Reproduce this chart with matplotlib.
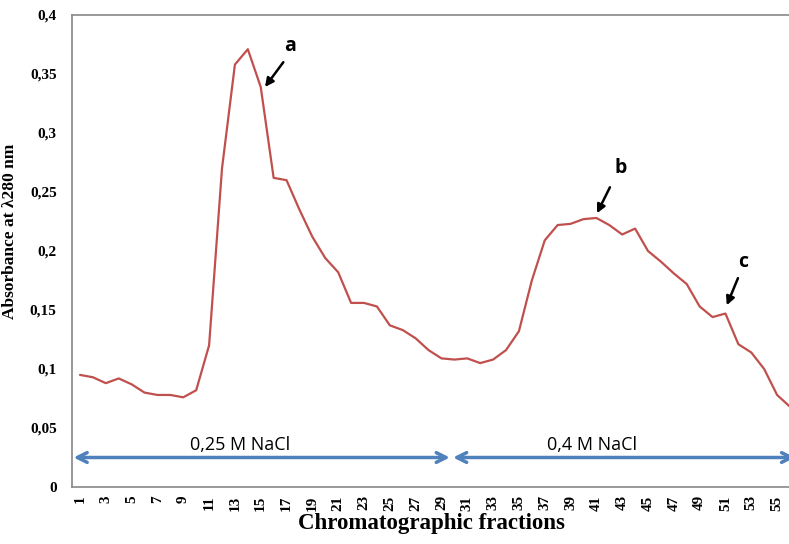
import matplotlib.pyplot as plt

# Data
fractions = list(range(1, 57))
absorbance = [
    0.095, 0.093, 0.088, 0.092, 0.087, 0.080, 0.078, 0.078, 0.076, 0.082,
    0.120, 0.270, 0.358, 0.371, 0.339, 0.262, 0.260, 0.235, 0.212, 0.194,
    0.182, 0.156, 0.156, 0.153, 0.137, 0.133, 0.126, 0.116, 0.109, 0.108,
    0.109, 0.105, 0.108, 0.116, 0.132, 0.175, 0.209, 0.222, 0.223, 0.227,
    0.228, 0.222, 0.214, 0.219, 0.200, 0.191, 0.181, 0.172, 0.153, 0.144,
    0.147, 0.121, 0.114, 0.100, 0.078, 0.068,
]
tick_labels = [str(n) for n in fractions[::2]]

fig = plt.figure(figsize=(7.89, 5.44), dpi=100)
ax = fig.add_axes([72 / 789, 57 / 544, 718 / 789, 472 / 544])

ax.plot(fractions, absorbance, color="#C0504D", linewidth=1.6,
        solid_joinstyle="round", solid_capstyle="round")

ax.set_xlim(0.38, 56.0)
ax.set_ylim(0, 0.4)

serif = "Liberation Serif"
ax.set_yticks([0, 0.05, 0.1, 0.15, 0.2, 0.25, 0.3, 0.35, 0.4])
ax.set_yticklabels(["0", "0,05", "0,1", "0,15", "0,2", "0,25", "0,3", "0,35", "0,4"],
                   fontfamily=serif, fontweight="bold", fontsize=11)
ax.set_xticks(fractions[::2])
ax.set_xticklabels(tick_labels, rotation=90, fontfamily=serif,
                   fontweight="bold", fontsize=11)
ax.tick_params(length=0)
ax.tick_params(axis="x", pad=6)
ax.tick_params(axis="y", pad=11)

for side in ["left", "top", "bottom"]:
    ax.spines[side].set_color("#888888")
    ax.spines[side].set_linewidth(1.2)
ax.spines["right"].set_visible(False)

ax.set_xlabel("Chromatographic fractions", fontfamily=serif,
              fontweight="bold", fontsize=16.5, labelpad=2)
ax.set_ylabel("Absorbance at \u03bb280 nm", fontfamily=serif,
              fontweight="bold", fontsize=12.5)
ax.yaxis.set_label_coords(-0.075, 0.542)

# NaCl gradient ranges
blue = "#4F81BD"
ax.annotate("", xy=(0.5, 0.025), xytext=(29.65, 0.025),
            arrowprops=dict(arrowstyle="<->,head_length=0.7,head_width=0.35",
                            color=blue, lw=2.5, shrinkA=0, shrinkB=0))
ax.annotate("", xy=(29.9, 0.025), xytext=(56.4, 0.025),
            arrowprops=dict(arrowstyle="<->,head_length=0.7,head_width=0.35",
                            color=blue, lw=2.5, shrinkA=0, shrinkB=0),
            annotation_clip=False)
ax.text(13.4, 0.0355, "0,25 M NaCl", ha="center", va="center",
        fontfamily="Open Sans", fontsize=13)
ax.text(40.7, 0.0355, "0,4 M NaCl", ha="center", va="center",
        fontfamily="Open Sans", fontsize=13)

# Peak labels
peaks = [("a", (15.33, 0.339), (16.75, 0.360), (17.3, 0.374)),
         ("b", (41.05, 0.232), (42.05, 0.254), (42.85, 0.270)),
         ("c", (51.1, 0.154), (51.97, 0.177), (52.4, 0.191))]
for name, tip, tail, pos in peaks:
    ax.annotate("", xy=tip, xytext=tail,
                arrowprops=dict(arrowstyle="-|>,head_length=0.5,head_width=0.25",
                                color="black", lw=1.8, shrinkA=0, shrinkB=0))
    ax.text(pos[0], pos[1], name, ha="center", va="center",
            fontfamily="Open Sans", fontweight="bold", fontsize=14)

fig.savefig("out.png", dpi=100)
